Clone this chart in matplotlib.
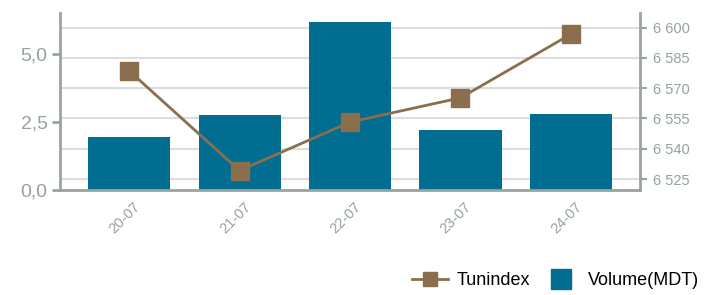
import matplotlib.pyplot as plt
import matplotlib.transforms as mtransforms
from matplotlib.ticker import FuncFormatter
from matplotlib.lines import Line2D

plt.rcParams['font.family'] = ['Liberation Sans', 'DejaVu Sans']

# data
dates = ['20-07', '21-07', '22-07', '23-07', '24-07']
volume = [1.95, 2.76, 6.18, 2.20, 2.79]          # Volume(MDT), left axis
tunindex = [6578.5, 6529.2, 6553.2, 6565.2, 6596.7]  # right axis

bar_color = '#006d91'
line_color = '#8a6e4e'
axis_color = '#97a59e'
text_color = '#95a39c'
grid_color = '#dddddd'

pos = [0.0843, 0.356, 0.8147, 0.600]
ilim = (6519.6, 6607.2)
vlim = (0, 6.5)
x = range(len(dates))
xlim = (-0.627, len(dates) - 1 + 0.627)

fig = plt.figure(figsize=(7.12, 2.95), dpi=100)

# background axes for the grid (follows the right axis ticks)
gax = fig.add_axes(pos, zorder=0)
gax.set_xlim(xlim)
gax.set_ylim(ilim)
gax.set_yticks([6525, 6540, 6555, 6570, 6585, 6600])
gax.yaxis.grid(True, color=grid_color, linewidth=1.5)
gax.tick_params(left=False, bottom=False, labelleft=False, labelbottom=False)
for s in gax.spines.values():
    s.set_visible(False)

# bars on the left axis
ax = fig.add_axes(pos, zorder=1)
ax.patch.set_visible(False)
ax.bar(x, volume, width=0.745, color=bar_color)
ax.set_xlim(xlim)
ax.set_ylim(vlim)
ax.set_yticks([0, 2.5, 5.0])
ax.yaxis.set_major_formatter(FuncFormatter(lambda v, p: f'{v:.1f}'.replace('.', ',')))
ax.set_xticks(list(x))
ax.set_xticklabels(dates)
for s in ['top', 'right']:
    ax.spines[s].set_visible(False)
for s in ['left', 'bottom']:
    ax.spines[s].set_color(axis_color)
    ax.spines[s].set_linewidth(2)
ax.tick_params(axis='y', colors=axis_color, labelcolor=text_color, labelsize=14,
               length=6, width=2, pad=3)
ax.tick_params(axis='x', length=0, labelcolor=text_color, labelsize=10.5, pad=7)
offset = mtransforms.ScaledTranslation(4 / 100, 0, fig.dpi_scale_trans)
for lbl in ax.get_xticklabels():
    lbl.set_rotation(45)
    lbl.set_ha('right')
    lbl.set_rotation_mode('anchor')
    lbl.set_transform(lbl.get_transform() + offset)

# index line on the right axis
ax2 = fig.add_axes(pos, zorder=2)
ax2.patch.set_visible(False)
ax2.plot(x, tunindex, color=line_color, linewidth=2, marker='s', markersize=13.5)
ax2.set_xlim(xlim)
ax2.set_ylim(ilim)
ax2.yaxis.tick_right()
ax2.set_yticks([6525, 6540, 6555, 6570, 6585, 6600])
ax2.yaxis.set_major_formatter(FuncFormatter(lambda v, p: f'{int(v):,}'.replace(',', ' ')))
ax2.tick_params(axis='y', colors=axis_color, labelcolor=text_color, labelsize=10.5,
                length=5, width=1.5, pad=4)
ax2.tick_params(axis='x', bottom=False, labelbottom=False)
for s in ['top', 'left', 'bottom']:
    ax2.spines[s].set_visible(False)
ax2.spines['right'].set_color(axis_color)
ax2.spines['right'].set_linewidth(2)

handles = [Line2D([], [], color=line_color, linewidth=2, marker='s', markersize=10),
           Line2D([], [], color=bar_color, linestyle='none', marker='s', markersize=15)]
fig.legend(handles, ['Tunindex', 'Volume(MDT)'], loc='lower right', ncol=2,
           bbox_to_anchor=(1.005, -0.035), frameon=False, fontsize=13,
           handlelength=2.0, handletextpad=0.5, columnspacing=0.7)

fig.savefig('out.png', dpi=100)
